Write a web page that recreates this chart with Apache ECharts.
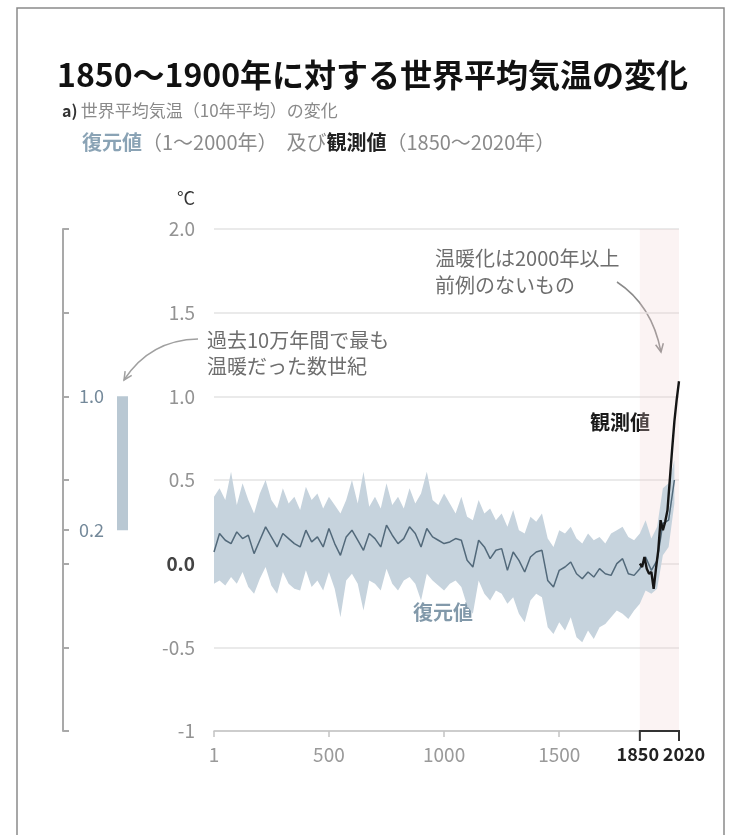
<!DOCTYPE html>
<html>
<head>
<meta charset="utf-8">
<title>1850～1900年に対する世界平均気温の変化</title>
<script src="https://cdn.jsdelivr.net/npm/echarts@6.0.0/dist/echarts.min.js"></script>
<style>
html,body{margin:0;padding:0;background:#fff;}
#main{width:734px;height:835px;}
</style>
</head>
<body>
<div id="main"></div>
<script>
// reconstruction (10-year mean), every 25 years
var years = [1,25,50,75,100,125,150,175,200,225,250,275,300,325,350,375,400,425,450,475,
  500,525,550,575,600,625,650,675,700,725,750,775,800,825,850,875,900,925,950,975,
  1000,1025,1050,1075,1100,1125,1150,1175,1200,1225,1250,1275,1300,1325,1350,1375,1400,1425,1450,1475,
  1500,1525,1550,1575,1600,1625,1650,1675,1700,1725,1750,1775,1800,1825,1850,1875,1900,1925,1950,1975,2000];
var recMedian = [0.07,0.18,0.14,0.12,0.19,0.15,0.17,0.06,0.14,0.22,0.16,0.10,0.18,0.15,0.12,0.10,0.20,0.13,0.16,0.10,
  0.21,0.12,0.05,0.16,0.20,0.14,0.08,0.18,0.15,0.10,0.23,0.17,0.12,0.15,0.22,0.18,0.10,0.21,0.16,0.14,
  0.12,0.13,0.15,0.14,0.02,-0.02,0.14,0.10,0.03,0.08,0.09,-0.04,0.07,0.02,-0.05,0.04,0.07,0.08,-0.10,-0.14,
  -0.04,-0.02,0.01,-0.06,-0.09,-0.05,-0.08,-0.03,-0.06,-0.07,0.00,0.03,-0.06,-0.07,-0.03,0.04,-0.04,0.02,0.24,0.26,0.50];
var recHigh = [0.40,0.45,0.38,0.55,0.35,0.48,0.38,0.30,0.42,0.50,0.38,0.33,0.45,0.36,0.40,0.32,0.46,0.38,0.42,0.33,
  0.40,0.35,0.30,0.38,0.50,0.36,0.55,0.34,0.40,0.33,0.48,0.35,0.40,0.33,0.45,0.36,0.42,0.55,0.38,0.35,
  0.42,0.36,0.30,0.40,0.28,0.26,0.38,0.30,0.33,0.26,0.30,0.22,0.32,0.20,0.18,0.28,0.25,0.30,0.15,0.10,
  0.20,0.18,0.22,0.15,0.12,0.18,0.14,0.16,0.12,0.18,0.20,0.22,0.16,0.14,0.18,0.26,0.15,0.22,0.45,0.48,0.62];
var recLow = [-0.12,-0.10,-0.13,-0.08,-0.12,-0.05,-0.14,-0.18,-0.09,-0.02,-0.13,-0.18,-0.05,-0.12,-0.15,-0.16,-0.04,-0.14,-0.10,-0.16,
  -0.05,-0.15,-0.32,-0.10,-0.06,-0.12,-0.28,-0.10,-0.12,-0.16,-0.03,-0.12,-0.16,-0.10,-0.08,-0.12,-0.22,-0.06,-0.10,-0.13,
  -0.16,-0.12,-0.10,-0.14,-0.25,-0.30,-0.10,-0.18,-0.22,-0.16,-0.18,-0.24,-0.20,-0.30,-0.35,-0.22,-0.18,-0.20,-0.38,-0.42,
  -0.35,-0.40,-0.32,-0.44,-0.47,-0.40,-0.45,-0.38,-0.36,-0.32,-0.28,-0.30,-0.33,-0.28,-0.24,-0.16,-0.18,-0.15,0.05,0.10,0.36];

// observations (decadal)
var obsYears = [1850,1860,1870,1880,1890,1900,1910,1920,1930,1940,1950,1960,1970,1980,1990,2000,2010,2020];
var obsValues = [0.00,-0.02,0.04,-0.03,-0.06,-0.05,-0.15,-0.03,0.08,0.26,0.20,0.25,0.32,0.50,0.68,0.85,0.98,1.09];

var xLabelValues = [1,500,1000,1500,1850];
var xEndLabel = [2020];
var xTickValues = [1,500,1000,1500];
var observedSpan = [1850,2020];
var warmestRange = [0.2,1.0];
var sideTickValues = [-1,-0.5,0,0.2,0.5,1,1.5,2];
var sideLabelValues = [0.2,1.0];

var FONT = '"Noto Sans CJK JP", "Noto Sans", sans-serif';

var medianData = years.map(function(y,i){ return [y, recMedian[i]]; });
var obsData = obsYears.map(function(y,i){ return [y, obsValues[i]]; });

function arrowHead(ex, ey, cx, cy, len){
  var a = Math.atan2(ey-cy, ex-cx), s = 0.45;
  return [[ex-len*Math.cos(a-s), ey-len*Math.sin(a-s)], [ex,ey], [ex-len*Math.cos(a+s), ey-len*Math.sin(a+s)]];
}

// uncertainty band as one polygon: upper edge forwards, lower edge back
function renderBand(params, api){
  if (params.dataIndex !== 0) return null;
  var pts = [];
  for (var i = 0; i < years.length; i++) pts.push(api.coord([years[i], recHigh[i]]));
  for (var j = years.length-1; j >= 0; j--) pts.push(api.coord([years[j], recLow[j]]));
  return {type:'polygon', shape:{points:pts}, style:{fill:'#c6d3dd'}};
}

function boldYear(v){ return v>=1850 ? '{b|'+v+'}' : String(v); }

var myChart = echarts.init(document.getElementById('main'));
var option = {
  animation: false,
  backgroundColor: '#fff',
  textStyle: {fontFamily: FONT},
  grid: [
    {left:214, right:55, top:229, bottom:104},
    {left:63, width:70, top:229, bottom:104}
  ],
  xAxis: [{
    type:'value', gridIndex:0, min:1, max:2020, position:'bottom',
    axisLine:{show:true, onZero:false, lineStyle:{color:'#c4c4c4', width:1.5}},
    axisTick:{show:true, customValues:xTickValues, length:6, lineStyle:{color:'#c4c4c4', width:1.5}},
    splitLine:{show:false},
    axisLabel:{
      customValues:xLabelValues, showMinLabel:true, hideOverlap:false,
      margin:14, fontSize:19, color:'#9a9a9a', fontFamily:FONT,
      formatter:boldYear,
      rich:{b:{fontSize:18, fontWeight:'bold', color:'#222', fontFamily:FONT, padding:[0,4,0,0]}}
    }
  },{
    type:'value', gridIndex:1, min:0, max:1, show:false
  },{
    // second bottom axis in the main grid, only carries the end label
    type:'value', gridIndex:0, min:1, max:2020, position:'bottom', offset:0,
    axisLine:{show:false, onZero:false}, axisTick:{show:false}, splitLine:{show:false},
    axisLabel:{
      customValues:xEndLabel, showMaxLabel:true, margin:14, fontFamily:FONT,
      formatter:boldYear,
      rich:{b:{fontSize:18, fontWeight:'bold', color:'#222', fontFamily:FONT, padding:[0,0,0,10]}}
    }
  }],
  yAxis: [{
    type:'value', gridIndex:0, min:-1, max:2, interval:0.5,
    axisLine:{show:false}, axisTick:{show:false},
    splitLine:{show:true, lineStyle:{color:'#e3e3e3', width:1.5}},
    axisLabel:{
      margin:19, fontSize:19, color:'#939393', fontFamily:FONT,
      formatter:function(v){ if(v===0) return '{z|0.0}'; return v===-1 ? '-1' : v.toFixed(1); },
      rich:{z:{fontSize:19, color:'#444', fontWeight:'bold', fontFamily:FONT}}
    }
  },{
    type:'value', gridIndex:1, min:-1, max:2,
    axisLine:{show:true, onZero:false, lineStyle:{color:'#a9a9a9', width:2}},
    axisTick:{show:true, inside:true, length:6, customValues:sideTickValues, lineStyle:{color:'#a9a9a9', width:2}},
    splitLine:{show:false},
    axisLabel:{
      inside:true, margin:16, customValues:sideLabelValues, fontSize:18, color:'#74899a', fontFamily:FONT,
      formatter:function(v){ return v.toFixed(1); }
    }
  }],
  series: [{
    name:'band', type:'custom', xAxisIndex:0, yAxisIndex:0, silent:true,
    data:[[years[0], recLow[0], recHigh[0]]],
    renderItem:renderBand
  },{
    name:'復元値', type:'line', xAxisIndex:0, yAxisIndex:0, symbol:'none',
    lineStyle:{color:'#52697a', width:1.5}, data:medianData,
    markArea:{silent:true, itemStyle:{color:'rgba(238,206,206,0.25)'},
      data:[[{xAxis:observedSpan[0]},{xAxis:observedSpan[1]}]]}
  },{
    name:'観測値', type:'line', xAxisIndex:0, yAxisIndex:0, symbol:'none',
    lineStyle:{color:'#151515', width:2.4}, data:obsData
  },{
    name:'bracket', type:'custom', xAxisIndex:0, yAxisIndex:0, clip:false, silent:true,
    data:[[observedSpan[0], observedSpan[1], -1]],
    renderItem:function(params, api){
      var a = api.coord([api.value(0), api.value(2)]);
      var b = api.coord([api.value(1), api.value(2)]);
      return {type:'polyline', shape:{points:[[a[0],a[1]+10],[a[0],a[1]],[b[0],b[1]],[b[0],b[1]+10]]},
        style:{stroke:'#333', lineWidth:2, fill:'none'}};
    }
  },{
    name:'warmest', type:'custom', xAxisIndex:1, yAxisIndex:1, silent:true,
    data:[[0.85, warmestRange[0], warmestRange[1]]],
    renderItem:function(params, api){
      var top = api.coord([api.value(0), api.value(2)]);
      var bot = api.coord([api.value(0), api.value(1)]);
      return {type:'rect', shape:{x:top[0]-5.5, y:top[1], width:11, height:bot[1]-top[1]},
        style:{fill:'#b9c8d3'}};
    }
  }],
  graphic: [
    {type:'rect', silent:true, shape:{x:17, y:8, width:707, height:900}, style:{fill:'none', stroke:'#8a8a8a', lineWidth:1.5}},
    {type:'text', x:57, y:75, style:{text:'1850～1900年に対する世界平均気温の変化', font:'bold 32px '+FONT, fill:'#111', textVerticalAlign:'middle', verticalAlign:'middle'}},
    {type:'text', x:62, y:111, style:{
      text:'{a|a)} {g|世界平均気温（10年平均）の変化}', verticalAlign:'middle', textVerticalAlign:'middle',
      rich:{a:{fontSize:16, fontWeight:'bold', fill:'#333', fontFamily:FONT}, g:{fontSize:17, fill:'#8a8a8a', fontFamily:FONT}}}},
    {type:'text', x:82, y:142, style:{
      text:'{c|復元値}{g|（1～2000年）  及び}{k|観測値}{g|（1850～2020年）}', verticalAlign:'middle', textVerticalAlign:'middle',
      rich:{c:{fontSize:20, fill:'#8aa3b5', fontWeight:'bold', fontFamily:FONT}, g:{fontSize:20, fill:'#8a8a8a', fontFamily:FONT},
        k:{fontSize:20, fill:'#222', fontWeight:'bold', fontFamily:FONT}}}},
    {type:'text', x:186, y:198, style:{text:'°C', font:'18px '+FONT, fill:'#333', textAlign:'center', align:'center', textVerticalAlign:'middle', verticalAlign:'middle'}},
    {type:'text', x:207, y:340, style:{text:'過去10万年間で最も', font:'20px '+FONT, fill:'#6e6e6e', textVerticalAlign:'middle', verticalAlign:'middle'}},
    {type:'text', x:207, y:366, style:{text:'温暖だった数世紀', font:'20px '+FONT, fill:'#6e6e6e', textVerticalAlign:'middle', verticalAlign:'middle'}},
    {type:'text', x:435, y:258, style:{text:'温暖化は2000年以上', font:'20px '+FONT, fill:'#6e6e6e', textVerticalAlign:'middle', verticalAlign:'middle'}},
    {type:'text', x:435, y:285, style:{text:'前例のないもの', font:'20px '+FONT, fill:'#6e6e6e', textVerticalAlign:'middle', verticalAlign:'middle'}},
    {type:'text', x:590, y:422, style:{text:'観測値', font:'bold 20px '+FONT, fill:'#1a1a1a', textVerticalAlign:'middle', verticalAlign:'middle'}},
    {type:'text', x:413, y:612, style:{text:'復元値', font:'bold 20px '+FONT, fill:'#8299aa', textVerticalAlign:'middle', verticalAlign:'middle'}},
    {type:'bezierCurve', silent:true, shape:{x1:198, y1:339, x2:124, y2:380, cpx1:150, cpy1:340}, style:{stroke:'#a0a0a0', lineWidth:1.5, fill:'none'}},
    {type:'polyline', silent:true, shape:{points:arrowHead(124,380,150,340,9)}, style:{stroke:'#a0a0a0', lineWidth:1.5, fill:'none'}},
    {type:'bezierCurve', silent:true, shape:{x1:617, y1:282, x2:661, y2:352, cpx1:652, cpy1:305}, style:{stroke:'#8a8a8a', lineWidth:1.5, fill:'none'}},
    {type:'polyline', silent:true, shape:{points:arrowHead(661,352,652,305,9)}, style:{stroke:'#8a8a8a', lineWidth:1.5, fill:'none'}}
  ]
};
myChart.setOption(option);
</script>
</body>
</html>
